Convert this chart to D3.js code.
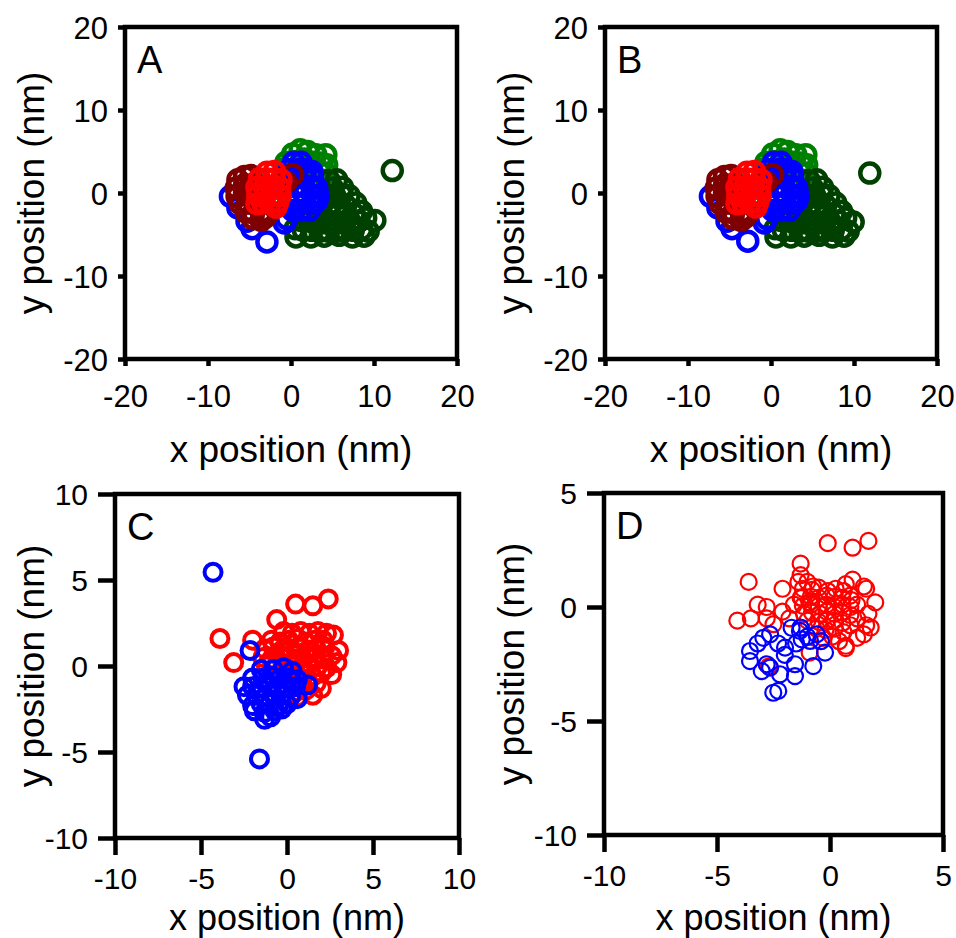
<!DOCTYPE html>
<html>
<head>
<meta charset="utf-8">
<script src="https://cdn.jsdelivr.net/npm/d3@7"></script>
<style>
  body { margin: 0; background: #fff; }
  text { font-family: "Liberation Sans", Arial, sans-serif; fill: #000; }
</style>
</head>
<body>
<div id="chart"></div>
<script>
// ---- data (nm) ----
// panels A and B share the main clusters
var greenCore = [[1.1,5.2],[0.2,4.7],[2.0,5.0],[3.0,4.6],[4.2,4.6],[-0.6,3.7],[0.5,3.8],[1.6,4.1],
  [2.6,3.7],[3.6,3.6],[4.3,3.4],[3.4,2.6],[4.2,2.4],[3.5,1.6],[4.4,1.3],[-0.8,2.9],[4.6,0.6]];
var darkGreenCore = [[5.5,1.6],[4.6,1.5],[5.0,0.6],[6.2,0.7],[4.4,-0.3],[5.3,-0.4],[6.1,-0.2],[7.0,-0.3],
  [3.6,-1.2],[4.6,-1.4],[5.6,-1.4],[6.6,-1.5],[7.8,-1.2],[2.6,-2.5],[3.6,-2.4],[4.6,-2.5],[5.6,-2.6],
  [6.6,-2.7],[7.6,-2.5],[8.5,-2.2],[1.2,-3.3],[2.2,-3.4],[3.2,-3.5],[4.2,-3.6],[5.2,-3.6],[6.2,-3.6],
  [7.2,-3.6],[8.2,-3.4],[9.0,-3.0],[0.5,-4.3],[1.5,-4.5],[2.5,-4.5],[3.5,-4.6],[4.5,-4.6],[5.5,-4.6],
  [6.5,-4.5],[7.5,-4.5],[8.5,-4.4],[9.3,-4.6],[0.6,-5.3],[2.4,-5.3],[4.0,-5.2],[5.8,-5.1],[7.4,-5.3],[8.8,-5.2]];
var blueCore = [[0.3,3.7],[1.2,3.7],[-0.2,2.8],[0.8,2.8],[1.8,2.8],[2.5,2.6],[-0.4,1.8],[0.6,1.8],[1.6,1.8],
  [2.6,1.8],[-0.5,0.8],[0.5,0.8],[1.5,0.8],[2.5,0.8],[3.1,0.6],[-0.4,-0.2],[0.6,-0.2],[1.6,-0.2],[2.6,-0.2],
  [3.3,-0.4],[-0.3,-1.2],[0.7,-1.2],[1.7,-1.2],[2.7,-1.2],[3.1,-1.0],[0.2,-2.1],[1.2,-2.1],[2.2,-2.1],
  [-0.5,-3.1],[-0.8,-3.6],[-7.3,-0.4],[-6.4,-1.8],[-5.3,-3.4],[-4.7,-4.3]];
var maroonCore = [[-6.4,1.6],[-5.6,2.0],[-4.8,2.1],[-6.6,0.6],[-5.6,1.0],[-4.7,1.0],[-6.5,-0.4],[-5.6,0.0],
  [-4.7,-0.2],[-6.1,-1.3],[-5.2,-1.2],[-4.3,-1.4],[-5.4,-2.3],[-4.5,-2.4],[-3.6,-2.3],[-2.8,-2.5],
  [-4.6,-3.1],[-3.6,-3.3],[-3.1,-2.9],[0.2,2.2],[-0.6,1.3]];
var redCore = [[-2.9,2.5],[-2.0,2.6],[-3.8,1.7],[-2.9,1.7],[-2.0,1.7],[-1.2,1.6],[-4.1,0.7],[-3.2,0.7],
  [-2.3,0.7],[-1.4,0.7],[-4.0,-0.3],[-3.1,-0.3],[-2.2,-0.3],[-1.3,-0.3],[-3.4,-1.2],[-2.5,-1.2],
  [-1.6,-1.1],[-4.1,-1.3],[-1.8,-1.7]];
var darkGreenOutA = [[12.2,2.7],[10.1,-3.3]];
var blueOutA = [[-2.9,-5.9]];
var darkGreenOutB = [[11.9,2.4],[9.9,-3.5]];
var blueOutB = [[-2.8,-5.8]];

// panel C
var redC = [[-3.9,1.6],[-3.1,0.2],[-2.0,1.5],[-0.6,2.7],[0.5,3.6],[1.5,3.5],[2.4,3.9],[3.0,0.9],[2.7,1.8],
  [2.3,1.9],[2.9,0.2],[2.6,-0.5],[2.0,-1.3],[1.5,-1.7],[0.6,-1.8],
  [-0.2,2.0],[0.3,1.9],[0.8,2.0],[1.3,1.9],[1.8,2.0],[-0.9,1.5],[-0.4,1.4],[0.1,1.5],[0.6,1.6],[1.1,1.4],
  [1.6,1.5],[2.1,1.5],[-1.3,1.0],[-0.8,1.1],[-0.3,0.9],[0.2,1.0],[0.7,1.1],[1.2,0.9],[1.7,1.0],[2.2,1.1],
  [-1.4,0.5],[-0.9,0.4],[-0.4,0.6],[0.1,0.5],[0.6,0.4],[1.1,0.6],[1.6,0.5],[2.1,0.4],[2.6,0.6],
  [-1.2,0.0],[-0.7,-0.1],[-0.2,0.1],[0.3,0.0],[0.8,-0.1],[1.3,0.1],[1.8,0.0],[2.3,-0.1],
  [-0.5,-0.5],[0.0,-0.6],[0.5,-0.4],[1.0,-0.5],[1.5,-0.6],[2.0,-0.4],[0.2,-1.0],[0.7,-1.1],[1.2,-0.9],
  [1.7,-1.0],[0.5,-1.5],[1.1,-1.4]];
var blueC = [[-4.3,5.45],[-1.6,-5.4],[-2.15,0.9],
  [-1.5,-0.2],[-0.8,-0.2],[-0.2,-0.1],[0.3,-0.3],[-2.0,-0.7],[-1.4,-0.7],[-0.9,-0.6],[-0.4,-0.7],[0.1,-0.7],
  [0.6,-0.8],[-2.5,-1.2],[-2.0,-1.2],[-1.5,-1.3],[-1.0,-1.2],[-0.5,-1.2],[0.0,-1.3],[0.5,-1.2],[1.2,-1.1],
  [-2.3,-1.7],[-1.8,-1.7],[-1.3,-1.8],[-0.8,-1.7],[-0.3,-1.7],[0.2,-1.8],[0.6,-1.9],[-2.0,-2.3],[-1.5,-2.2],
  [-1.0,-2.2],[-0.5,-2.3],[0.0,-2.2],[-1.9,-2.6],[-1.3,-2.7],[-0.7,-2.6],[-0.3,-2.5],[-1.3,-3.1],[-0.95,-2.95]];

// panel D
var redD = [[-0.1,2.8],[1.0,2.6],[1.7,2.9],[-1.3,1.9],[-3.6,1.1],[-2.1,0.8],[-4.1,-0.6],[-3.2,0.1],[-2.8,0.0],
  [-3.5,-0.5],[2.0,0.2],[1.5,0.9],[1.0,1.2],[1.6,-0.8],[1.5,-1.2],[0.7,-1.8],[-0.9,-2.0],[-1.3,1.4],[-1.0,1.1],
  [-1.4,1.1],[-0.75,0.9],[0.7,1.0],[1.6,0.8],[1.7,-0.3],[1.8,-0.9],[1.2,-1.35],[0.7,-1.7],[-2.5,-0.75],
  [-2.8,-0.5],[-2.1,-0.2],[-1.8,-0.5],[-1.6,0.1],[-1.3,0.4],[-0.9,0.2],[-2.7,-2.6],
  [-1.2,0.8],[-0.8,0.75],[-0.5,0.85],[-0.1,0.7],[0.25,0.8],[0.6,0.7],[0.9,0.5],
  [-1.25,0.4],[-0.85,0.45],[-0.5,0.4],[-0.15,0.5],[0.2,0.45],[0.55,0.4],[0.95,0.3],[1.2,0.1],
  [-1.2,0.05],[-0.85,0.1],[-0.5,0.05],[-0.15,0.1],[0.2,0.0],[0.55,0.1],[0.9,0.0],
  [-1.15,-0.3],[-0.8,-0.25],[-0.45,-0.3],[-0.15,-0.2],[0.2,-0.3],[0.55,-0.25],[0.9,-0.35],[1.2,-0.5],
  [-1.0,-0.6],[-0.5,-0.65],[-0.15,-0.6],[0.2,-0.6],[0.55,-0.7],[0.9,-0.8],
  [-0.6,-0.95],[-0.2,-1.0],[0.2,-0.95],[0.6,-1.1],[-0.3,-1.35],[0.1,-1.3],[0.4,-1.5]];
var blueD = [[-3.54,-1.93],[-3.54,-2.37],[-2.95,-1.35],[-2.65,-1.2],[-3.02,-2.81],[-2.8,-2.51],[-2.51,-3.76],
  [-2.29,-3.68],[-2.21,-2.95],[-1.55,-3.03],[-1.55,-2.51],[-1.99,-1.78],[-1.7,-0.91],[-1.33,-1.05],
  [-1.25,-1.42],[-0.74,-2.59],[-0.59,-1.2],[-0.22,-2.0],[-0.88,-1.49],[-2.65,-2.66],[-1.0,-1.3],
  [-1.5,-1.6],[-0.4,-1.5],[-2.3,-1.6],[-3.2,-1.6],[-1.3,-0.9],[-2.0,-2.1]];

var ticksAB = [-20, -10, 0, 10, 20];
var ticksC = [-10, -5, 0, 5, 10];
var ticksDx = [-10, -5, 0, 5];
var ticksDy = [-10, -5, 0, 5];

var colMaroon = "#7f0000", colRed = "#ff0000", colBlue = "#0000ff",
    colGreen = "#008000", colDarkGreen = "#004000";

var svg = d3.select("#chart").append("svg")
  .attr("width", 956)
  .attr("height", 938);

var panels = [
  { letter: "A", left: 125, right: 457, top: 27, bottom: 359, xd: [-20, 20], yd: [-20, 20],
    xt: ticksAB, yt: ticksAB, tick: 7, pad: 19, fs: 31, r: 9.5, sw: 4.5, titleY: 462, titleFs: 37, ytx: 44,
    series: [[greenCore, colGreen], [darkGreenCore, colDarkGreen], [darkGreenOutA, colDarkGreen],
             [blueCore, colBlue], [blueOutA, colBlue], [maroonCore, colMaroon], [redCore, colRed]] },
  { letter: "B", left: 605, right: 937, top: 27, bottom: 359, xd: [-20, 20], yd: [-20, 20],
    xt: ticksAB, yt: ticksAB, tick: 7, pad: 19, fs: 31, r: 9.5, sw: 4.5, titleY: 462, titleFs: 37, ytx: 524,
    series: [[greenCore, colGreen], [darkGreenCore, colDarkGreen], [darkGreenOutB, colDarkGreen],
             [blueCore, colBlue], [blueOutB, colBlue], [maroonCore, colMaroon], [redCore, colRed]] },
  { letter: "C", left: 115, right: 459, top: 494, bottom: 838, xd: [-10, 10], yd: [-10, 10],
    xt: ticksC, yt: ticksC, tick: 17, pad: 13, fs: 30, r: 8.5, sw: 4, titleY: 930, titleFs: 36, ytx: 44,
    series: [[redC, colRed], [blueC, colBlue]] },
  { letter: "D", left: 604, right: 943, top: 493, bottom: 835, xd: [-10, 5], yd: [-10, 5],
    xt: ticksDx, yt: ticksDy, tick: 17, pad: 13, fs: 30, r: 8, sw: 2.2, titleY: 930, titleFs: 36, ytx: 524,
    series: [[redD, colRed], [blueD, colBlue]] }
];

panels.forEach(function(p) {
  var x = d3.scaleLinear().domain(p.xd).range([p.left, p.right]);
  var y = d3.scaleLinear().domain(p.yd).range([p.bottom, p.top]);
  var g = svg.append("g");

  // points
  p.series.forEach(function(s) {
    g.append("g").selectAll("circle")
      .data(s[0])
      .enter()
      .append("circle")
      .attr("cx", d => x(d[0]))
      .attr("cy", d => y(d[1]))
      .attr("r", p.r)
      .attr("fill", "none")
      .attr("stroke", s[1])
      .attr("stroke-width", p.sw);
  });

  // axes (plain hyphen for negatives, like the original)
  var fmt = d => String(d);
  var xAxis = g.append("g")
    .attr("transform", `translate(0,${p.bottom})`)
    .call(d3.axisBottom(x).tickValues(p.xt).tickFormat(fmt).tickSize(p.tick).tickSizeOuter(0).tickPadding(p.pad));
  var yAxis = g.append("g")
    .attr("transform", `translate(${p.left},0)`)
    .call(d3.axisLeft(y).tickValues(p.yt).tickFormat(fmt).tickSize(p.tick).tickSizeOuter(0).tickPadding(10));

  [xAxis, yAxis].forEach(function(a) {
    a.select(".domain").remove();
    a.selectAll("line").attr("stroke", "#000").attr("stroke-width", 4.5);
    a.selectAll("text")
      .attr("font-size", p.fs + "px")
      .attr("font-family", "Liberation Sans, Arial, sans-serif")
      .attr("fill", "#000");
  });
  yAxis.selectAll("text").attr("dy", "0.36em");

  // frame
  g.append("rect")
    .attr("x", p.left)
    .attr("y", p.top)
    .attr("width", p.right - p.left)
    .attr("height", p.bottom - p.top)
    .attr("fill", "none")
    .attr("stroke", "#000")
    .attr("stroke-width", 4.5);

  // panel letter
  g.append("text")
    .attr("x", p.left + 12)
    .attr("y", p.top + 46)
    .attr("font-size", "38px")
    .text(p.letter);

  // titles
  g.append("text")
    .attr("x", (p.left + p.right) / 2)
    .attr("y", p.titleY)
    .attr("text-anchor", "middle")
    .attr("font-size", p.titleFs + "px")
    .text("x position (nm)");

  g.append("text")
    .attr("transform", `translate(${p.ytx},${(p.top + p.bottom) / 2}) rotate(-90)`)
    .attr("text-anchor", "middle")
    .attr("font-size", "37px")
    .text("y position (nm)");
});
</script>
</body>
</html>
